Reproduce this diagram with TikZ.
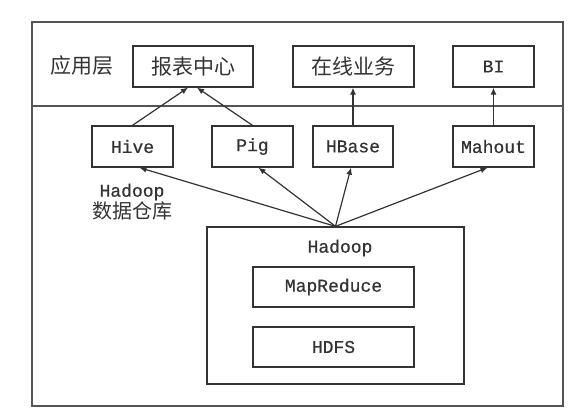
\documentclass[tikz,border=0pt]{standalone}
\usepackage{fontspec}
\usepackage{tikz}
\usetikzlibrary{arrows.meta}
\setmainfont{Liberation Mono}[BoldFont={Liberation Mono},BoldFeatures={FakeBold=0.6}]
\newfontfamily\cjk{Noto Sans CJK SC}
\definecolor{linecolor}{RGB}{51, 51, 51}
\definecolor{framecolor}{RGB}{85, 85, 85}

\begin{document}
\begin{tikzpicture}[x=1pt,y=-1pt,
    box/.style={draw=linecolor,line width=1.3pt,inner sep=0pt,minimum width=81pt,minimum height=41pt,text=linecolor,font=\bfseries\fontsize{18}{20}\selectfont},
    label/.style={text=linecolor,font=\bfseries\fontsize{18}{22}\selectfont,align=center}]
  \useasboundingbox (0,0) rectangle (588,407);
  \draw[framecolor,line width=1.3pt] (32,22) rectangle (563,406);
  \draw[framecolor,line width=1.3pt] (32,106) -- (563,106);
  \node[label] (layer) at (82,66) {\cjk\mdseries\fontsize{21}{24}\selectfont 应用层};
  \node[box,minimum width=120pt] (report) at (193,66.5) {\cjk\mdseries\fontsize{21}{24}\selectfont 报表中心};
  \node[box,minimum width=121pt] (online) at (353.5,66.5) {\cjk\mdseries\fontsize{21}{24}\selectfont 在线业务};
  \node[box] (bi) at (493.5,66.5) {BI};
  \node[box] (hive) at (132.5,146.5) {Hive};
  \node[box] (pig) at (252.5,146.5) {Pig};
  \node[box,minimum width=80pt] (hbase) at (353,146.5) {HBase};
  \node[box] (mahout) at (493.5,146.5) {Mahout};
  \node[label] (warehouse) at (132,202) {Hadoop\\{\cjk\mdseries\fontsize{20}{24}\selectfont 数据仓库}};
  \node[box,minimum width=257pt,minimum height=157pt] (hadoop) at (335.5,305.5) {};
  \node[label] (hadooptitle) at (340,248) {Hadoop};
  \node[box,minimum width=161pt,minimum height=40pt] (mapreduce) at (333.5,287) {MapReduce};
  \node[box,minimum width=161pt,minimum height=40pt] (hdfs) at (333.5,347) {HDFS};
  \path[-{Latex[length=7pt,width=6pt]},linecolor,line width=1.2pt]
    (hadoop.north) edge ([xshift=7pt]hive.south)
    (hadoop.north) edge ([xshift=6pt]pig.south)
    (hadoop.north) edge ([xshift=-2pt]hbase.south)
    (hadoop.north) edge ([xshift=-6pt]mahout.south)
    (hive.north) edge ([xshift=-5pt]report.south)
    (pig.north) edge ([xshift=4pt]report.south)
    (hbase.north) edge (hbase.north |- online.south)
    (mahout.north) edge (bi.south);
\end{tikzpicture}
\end{document}
